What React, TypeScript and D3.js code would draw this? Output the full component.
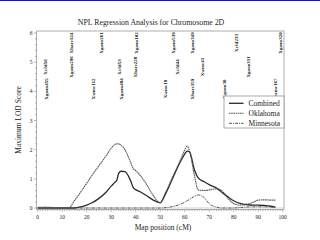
import React from "react";
import * as d3 from "d3";

const positions = [0, 3, 6, 10, 12.6, 15, 18, 20, 22, 25, 28, 30, 31.5, 32.3, 33, 34, 35.6, 37, 38, 39, 40, 42, 44.5, 47, 50, 52, 55, 58, 60, 61, 62, 64, 65.5, 68, 70, 73, 75, 78, 80, 83, 85, 88, 90, 93, 95, 97];
const combined = [0, 0, 0, 0, 0, 0, 0.05, 0.1, 0.17, 0.33, 0.55, 0.75, 0.88, 0.95, 1.18, 1.26, 1.25, 1.1, 0.92, 0.7, 0.63, 0.55, 0.42, 0.28, 0.18, 0.45, 1.0, 1.55, 1.85, 1.95, 1.92, 1.3, 1.03, 0.9, 0.8, 0.68, 0.55, 0.36, 0.25, 0.15, 0.12, 0.1, 0.1, 0.08, 0.06, 0.03];
const oklahoma = [0, 0, 0, 0, 0, 0.25, 0.6, 0.85, 1.1, 1.45, 1.8, 2.05, 2.18, 2.2, 2.2, 2.15, 2.0, 1.75, 1.55, 1.35, 1.28, 1.1, 0.8, 0.45, 0.18, 0.5, 1.05, 1.6, 1.98, 2.12, 1.95, 1.1, 0.62, 0.6, 0.62, 0.66, 0.6, 0.3, 0.15, 0.1, 0.12, 0.2, 0.27, 0.28, 0.27, 0.27];
const minnesota = [0.02, 0.03, 0.02, 0, 0, 0, 0, 0, 0, 0, 0, 0, 0, 0, 0, 0, 0, 0, 0, 0, 0, 0, 0, 0, 0, 0.01, 0.05, 0.12, 0.2, 0.25, 0.3, 0.4, 0.45, 0.35, 0.15, 0.03, 0, 0, 0, 0.02, 0.03, 0.04, 0.04, 0.04, 0.03, 0.02];

const seriesNames = ["Combined", "Oklahoma", "Minnesota"];

const markerNames = ["Xcfd56", "Xgwm455", "Xbarc124", "Xgwm296", "Xwmc112", "Xgwm261", "Xcfd53", "Xgwm484", "Xbarc228", "Xgwm102", "Xwmc18", "Xgwm539", "Xcfd44", "Xgwm349", "Xbarc159", "Xwmc41", "Xgwm30", "Xcfd233", "Xgwm311", "Xwmc167", "Xgwm320"];
const markerPos = [3.2, 3.6, 13.6, 13.6, 22.6, 26, 33.2, 34, 39.9, 40.4, 52, 55.2, 56.9, 62.9, 63, 67, 76, 81, 85.8, 96.9, 99];
const markerTier = [1, 2, 0, 1, 2, 0, 1, 2, 1, 0, 2, 0, 1, 0, 2, 1, 2, 0, 1, 2, 0];

const xTicks = [0, 10, 20, 30, 40, 50, 60, 70, 80, 90, 100];
const yTicks = [0, 1, 2, 3, 4, 5, 6];

export default function App() {
  const x = d3.scaleLinear().domain([0, 100]).range([37.7, 282.7]);
  const y = d3.scaleLinear().domain([0, 6]).range([208, 33]);
  const line = d3
    .line<number>()
    .x((_, i) => x(positions[i]))
    .y((d) => y(d))
    .curve(d3.curveMonotoneX);

  const styles = [
    { stroke: "#2a2a2a", width: 1.3, dash: "none" },
    { stroke: "#555", width: 1.1, dash: "1.6,0.6" },
    { stroke: "#555", width: 1, dash: "3,1,1,1" },
  ];
  const data = [combined, oklahoma, minnesota];
  const tierY = [43, 67, 89];
  const font = "'Liberation Serif', 'DejaVu Serif', serif";
  const minorX = d3.range(0, 101, 1);
  const minorY = d3.range(0, 6.01, 0.2);

  return (
    <svg
      width={320}
      height={240}
      style={{ position: "absolute", left: 0, top: 0, background: "#fff" }}
      fontFamily={font}
    >
      <rect x={0} y={0} width={320} height={240} fill="#fff" />
      <rect x={0} y={0} width={320} height={1} fill="#1010ee" />
      {/* frame */}
      <rect x={36.5} y={31} width={247.5} height={178.5} fill="none" stroke="#999" strokeWidth={0.8} />
      {/* minor ticks */}
      {minorX.map((v) => (
        <line key={"mx" + v} x1={x(v)} x2={x(v)} y1={209.5} y2={v % 10 === 0 ? 212 : 211} stroke="#888" strokeWidth={0.6} />
      ))}
      {minorY.map((v, i) => (
        <line key={"my" + i} x1={36.5} x2={i % 5 === 0 ? 34 : 35} y1={y(v)} y2={y(v)} stroke="#888" strokeWidth={0.6} />
      ))}
      {/* zero line */}
      <line x1={36.5} x2={284} y1={y(0)} y2={y(0)} stroke="#bbb" strokeWidth={0.7} />
      {xTicks.map((t) => (
        <text key={"xt" + t} x={x(t)} y={218.5} fontSize={5.5} textAnchor="middle" fill="#222">
          {t}
        </text>
      ))}
      {yTicks.map((t) => (
        <text key={"yt" + t} x={32.5} y={y(t) + 2} fontSize={5.5} textAnchor="end" fill="#222">
          {t}
        </text>
      ))}
      {/* markers */}
      {markerNames.map((n, i) => (
        <text
          key={"m" + i}
          transform={`translate(${x(markerPos[i]) + 1.8},${tierY[markerTier[i]]}) rotate(-90)`}
          fontSize={5}
          fontWeight="bold"
          textAnchor="middle"
          fill="#111"
        >
          {n}
        </text>
      ))}
      {/* curves */}
      {data.map((d, i) => (
        <path
          key={"s" + i}
          d={line(d) || ""}
          fill="none"
          stroke={styles[i].stroke}
          strokeWidth={styles[i].width}
          strokeDasharray={styles[i].dash}
        />
      ))}
      {/* legend */}
      <rect x={224} y={96} width={60} height={32} fill="#fff" stroke="#888" strokeWidth={0.7} />
      {seriesNames.map((n, i) => (
        <g key={"lg" + i}>
          <line
            x1={229}
            x2={243.5}
            y1={103.3 + i * 10}
            y2={103.3 + i * 10}
            stroke={styles[i].stroke}
            strokeWidth={styles[i].width}
            strokeDasharray={styles[i].dash}
          />
          <text x={248.5} y={106 + i * 10} fontSize={7.5} fill="#222">
            {n}
          </text>
        </g>
      ))}
      {/* titles */}
      <text x={151} y={25} fontSize={7.8} textAnchor="middle" fill="#222">
        NPL Regression Analysis for Chromosome 2D
      </text>
      <text x={163} y={230} fontSize={7.5} textAnchor="middle" fill="#222">
        Map position (cM)
      </text>
      <text transform="translate(21,120) rotate(-90)" fontSize={7.5} textAnchor="middle" fill="#222">
        Maximum LOD Score
      </text>
    </svg>
  );
}
